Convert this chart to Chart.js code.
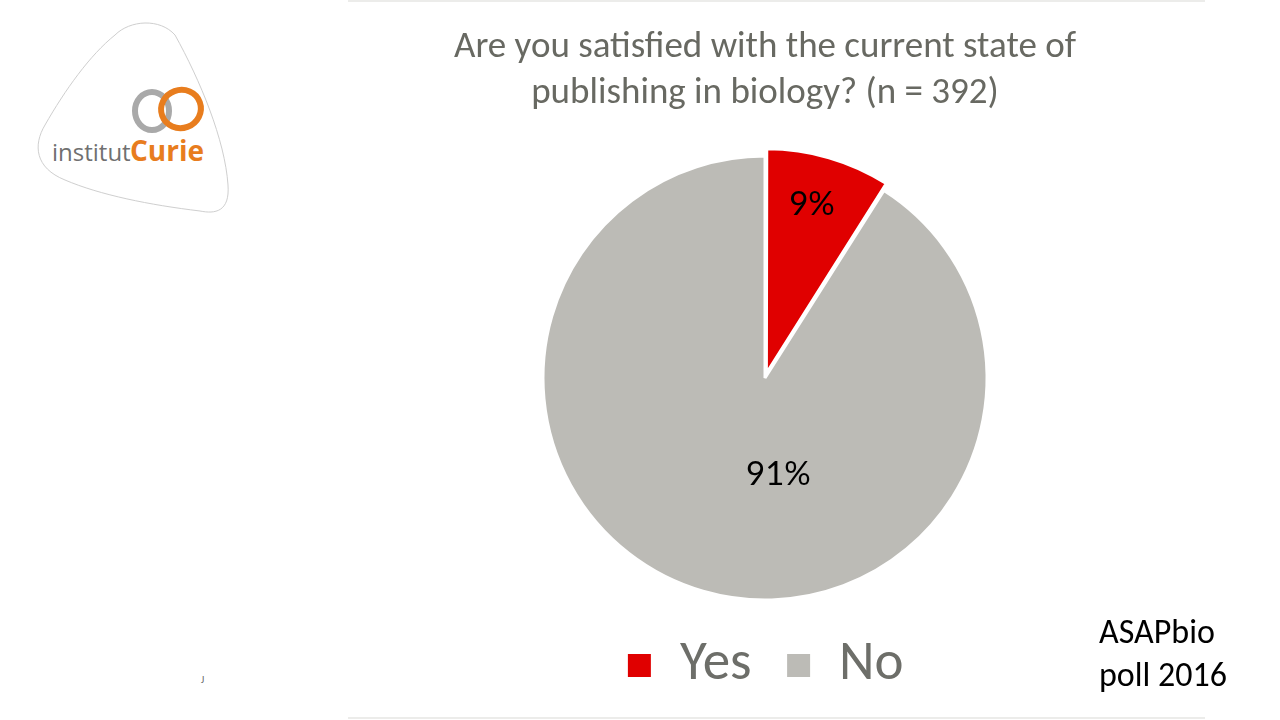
<!DOCTYPE html>
<html>
<head>
<meta charset="utf-8">
<script src="https://cdn.jsdelivr.net/npm/chart.js@4"></script>
<style>
  html, body { margin: 0; padding: 0; background: #fff; }
  body { width: 1280px; height: 720px; position: relative; overflow: hidden; font-family: Carlito, 'Open Sans', sans-serif; }
  #chartBox { position: absolute; left: 348px; top: 0; width: 834px; height: 720px; }
  .rule { position: absolute; left: 348px; width: 857px; height: 2px; background: #ececea; }
  #source { position: absolute; left: 1099px; top: 610px; font-size: 34px; line-height: 43px; color: #000; }
  #mark { position: absolute; left: 201px; top: 673px; font-size: 10px; color: #666; }
  #logo { position: absolute; left: 0; top: 0; }
</style>
</head>
<body>
<div class="rule" style="top:0"></div>
<div class="rule" style="top:717px"></div>

<svg id="logo" width="260" height="230" viewBox="0 0 260 230">
  <path d="M 115 35 C 130 20, 160 18, 175 35 C 200 80, 225 140, 228 185 C 230 212, 215 214, 200 211 C 150 205, 100 195, 65 180 C 35 168, 33 145, 45 125 C 65 90, 90 55, 115 35 Z"
        fill="#fff" stroke="#cfcfcf" stroke-width="1"/>
  <ellipse cx="152" cy="111" rx="17" ry="19" fill="none" stroke="#a9a9a9" stroke-width="6"/>
  <ellipse cx="181" cy="109" rx="20" ry="19" fill="none" stroke="#e87d1e" stroke-width="6" transform="rotate(-20 181 109)"/>
  <text x="52" y="161" font-family="'Open Sans', sans-serif" font-size="24" fill="#707070">institut</text>
  <text x="130" y="161" font-family="'Open Sans', sans-serif" font-size="28" font-weight="bold" fill="#e87d1e">Curie</text>
</svg>

<div id="chartBox"><canvas id="pie"></canvas></div>
<div id="source">ASAPbio<br>poll 2016</div>
<div id="mark">J</div>

<script>
const categories = ['Yes', 'No'];
const shares = [9, 91];
const sliceColors = ['#e00000', '#bcbbb6'];
const titleLines = ['Are you satisfied with the current state of', 'publishing in biology? (n = 392)'];

// label placement for each slice: fraction of radius along its mid angle, plus angle nudge (radians)
const labelSpots = [
  { r: 0.77, turn: -0.02 },
  { r: 0.44, turn: -0.42 }
];

const sliceLabels = {
  id: 'sliceLabels',
  afterDatasetsDraw(chart) {
    const ctx = chart.ctx;
    const meta = chart.getDatasetMeta(0);
    ctx.save();
    ctx.font = '33px Lato, sans-serif';
    ctx.fillStyle = '#000';
    ctx.textAlign = 'center';
    ctx.textBaseline = 'middle';
    meta.data.forEach((arc, i) => {
      const p = arc.getProps(['x', 'y', 'startAngle', 'endAngle', 'outerRadius', 'circumference']);
      // chart.js scales the offset the same way when it draws the arc
      const off = (arc.options.offset || 0) * (1 - Math.sin(Math.min(Math.PI, p.circumference || 0)));
      const mid = (p.startAngle + p.endAngle) / 2;
      const ox = p.x + Math.cos(mid) * off;
      const oy = p.y + Math.sin(mid) * off;
      const a = mid + labelSpots[i].turn;
      const d = p.outerRadius * labelSpots[i].r;
      ctx.fillText(shares[i] + '%', ox + Math.cos(a) * d, oy + Math.sin(a) * d);
    });
    ctx.restore();
  }
};

new Chart(document.getElementById('pie'), {
  type: 'pie',
  data: {
    labels: categories,
    datasets: [{
      data: shares,
      backgroundColor: sliceColors,
      borderColor: '#fff',
      borderWidth: 3,
      offset: [20, 0],
      hoverOffset: 0
    }]
  },
  options: {
    responsive: true,
    maintainAspectRatio: false,
    animation: false,
    radius: 222,
    layout: { padding: { top: 0, bottom: 17, left: 0, right: 0 } },
    plugins: {
      title: {
        display: true,
        text: titleLines,
        color: '#686962',
        font: { family: "Carlito, 'Open Sans', sans-serif", size: 37, weight: 'normal', lineHeight: 1.243 },
        padding: { top: 25, bottom: 35 }
      },
      legend: {
        position: 'bottom',
        labels: {
          color: '#6d6e69',
          boxWidth: 26,
          boxHeight: 26,
          padding: 34,
          font: { family: "Carlito, 'Open Sans', sans-serif", size: 55 }
        }
      },
      tooltip: { enabled: false }
    }
  },
  plugins: [sliceLabels]
});
</script>
</body>
</html>
